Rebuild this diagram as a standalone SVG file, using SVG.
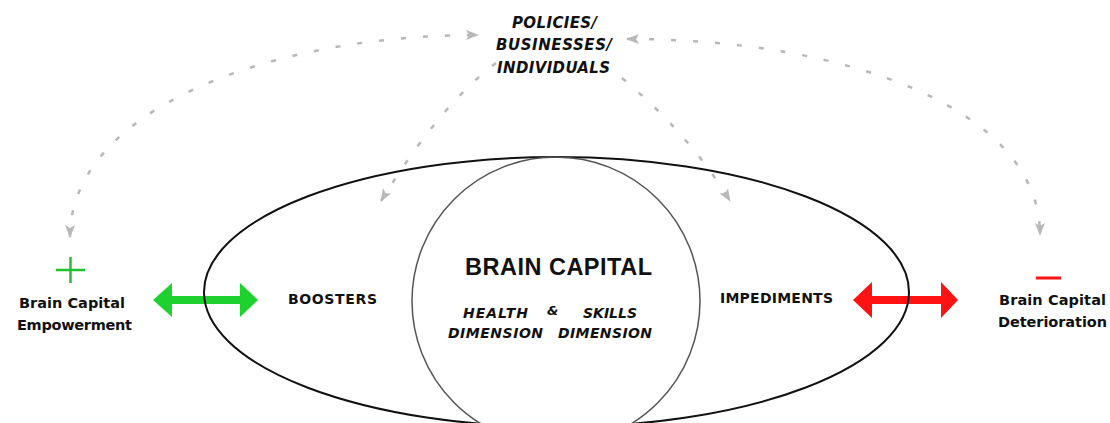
<svg xmlns="http://www.w3.org/2000/svg" width="1110" height="423" viewBox="0 0 1110 423">
<style>
text{font-family:"DejaVu Sans","Liberation Sans",sans-serif;font-weight:bold;fill:#111}
.big{font-family:"Liberation Sans","Arial",sans-serif}
.it{font-style:italic}
.dash{fill:none;stroke:#b8b8b8;stroke-width:2.5;stroke-dasharray:5 17;marker-end:url(#ah)}
.both{marker-start:url(#ah)}
</style>
<defs>
<marker id="ah" viewBox="0 0 13 10" refX="12" refY="5" markerWidth="13" markerHeight="10" markerUnits="userSpaceOnUse" orient="auto-start-reverse">
<path d="M0,0 L13,5 L0,10 L3,5 z" fill="#b8b8b8"/>
</marker>
</defs>
<rect width="1110" height="423" fill="#fff"/>
<g id="connectors">
<path class="dash both" d="M 70,237 C 70,110 270,35 478,35"/>
<path class="dash both" d="M 627,39 C 850,39 1040,110 1040,235"/>
<path class="dash" d="M 496,63 Q 440,105 381,201"/>
<path class="dash" d="M 622,78 Q 690,135 730,201"/>
<polygon fill="#1fd12f" points="153,300 172,283 172,296 240,296 240,283 258,300 240,317 240,304 172,304 172,317"/>
<polygon fill="#ff1212" points="853,300 872,282 872,296 941,296 941,282 958,300 941,318 941,304 872,304 872,318"/>
</g>
<g id="brain-capital">
<ellipse cx="556.5" cy="292" rx="352.5" ry="135" fill="none" stroke="#111" stroke-width="2"/>
<circle cx="556" cy="301" r="144" fill="none" stroke="#555" stroke-width="1.5"/>
<text class="big" x="465" y="275" font-size="23.5" textLength="187">BRAIN CAPITAL</text>
<text class="it" x="463" y="318" font-size="14" textLength="65">HEALTH</text>
<text class="it" x="547" y="315" font-size="13">&amp;</text>
<text class="it" x="583" y="318" font-size="14" textLength="54">SKILLS</text>
<text class="it" x="448" y="338" font-size="14" textLength="95">DIMENSION</text>
<text class="it" x="558" y="338" font-size="14" textLength="94">DIMENSION</text>
</g>
<g id="boosters"><text x="288" y="304" font-size="14" textLength="89">BOOSTERS</text></g>
<g id="impediments"><text x="720" y="303" font-size="14" textLength="113">IMPEDIMENTS</text></g>
<g id="actors">
<text class="it" x="512" y="28" font-size="15" textLength="85">POLICIES/</text>
<text class="it" x="496" y="50" font-size="15" textLength="116">BUSINESSES/</text>
<text class="it" x="497" y="73" font-size="15" textLength="113">INDIVIDUALS</text>
</g>
<g id="empowerment">
<path d="M56,270 H85 M70.5,257 V283" stroke="#1fc22f" stroke-width="2.5" fill="none"/>
<text x="19" y="308" font-size="14.5" textLength="106">Brain Capital</text>
<text x="17" y="330" font-size="14.5" textLength="115">Empowerment</text>
</g>
<g id="deterioration">
<path d="M1036,278 H1061" stroke="#ff1212" stroke-width="3" fill="none"/>
<text x="999" y="305" font-size="14.5" textLength="107">Brain Capital</text>
<text x="998" y="327" font-size="14.5" textLength="109">Deterioration</text>
</g>
</svg>
